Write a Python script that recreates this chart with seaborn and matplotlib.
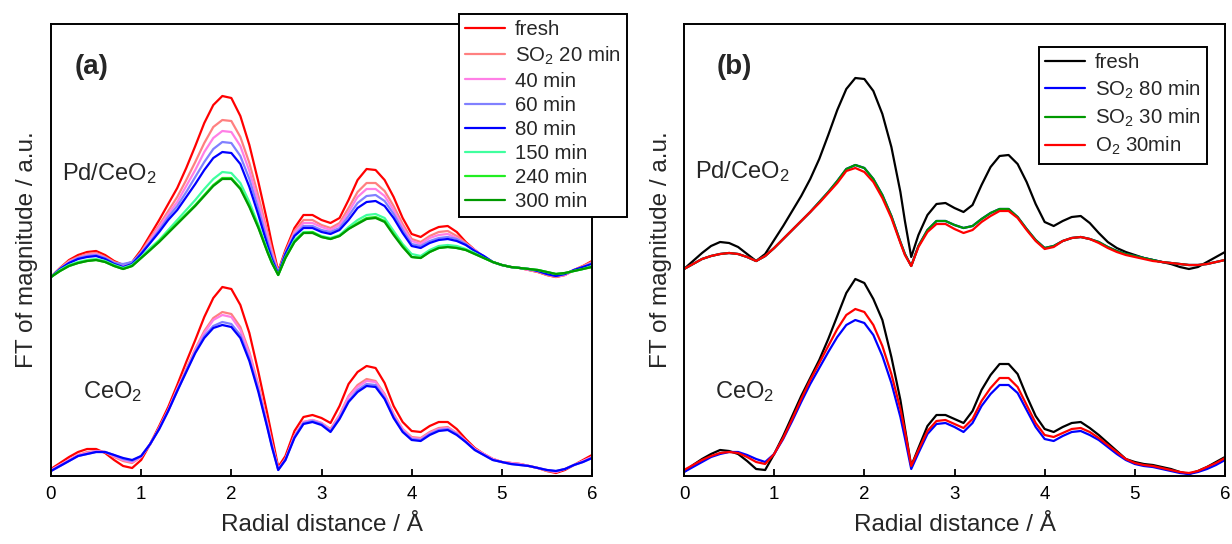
import numpy as np
import pandas as pd
import matplotlib
matplotlib.use("Agg")
import matplotlib.pyplot as plt
import seaborn as sns

# ---------------- data (radial distance grid, Å) ----------------
R = [0.0, 0.1, 0.2, 0.3, 0.4, 0.5, 0.6, 0.7, 0.8, 0.9,
     1.0, 1.1, 1.2, 1.3, 1.4, 1.5, 1.6, 1.7, 1.8, 1.9,
     2.0, 2.1, 2.2, 2.3, 2.4, 2.45, 2.52, 2.6, 2.7, 2.8, 2.9,
     3.0, 3.1, 3.2, 3.3, 3.4, 3.5, 3.6, 3.7, 3.8, 3.9,
     4.0, 4.1, 4.2, 4.3, 4.4, 4.5, 4.6, 4.7, 4.8, 4.9,
     5.0, 5.1, 5.2, 5.3, 5.4, 5.5, 5.6, 5.7, 5.8, 5.9, 6.0]

# panel (a) -- Pd/CeO2 (a.u., curves offset upward)
a_top_fresh = [199, 208, 216, 221, 224, 225, 221, 215, 211, 214,
               226, 241, 256, 272, 288, 308, 330, 353, 371, 380,
               378, 360, 331, 294, 254, 232, 205, 226, 248, 261, 261,
               256, 253, 258, 276, 296, 307, 306, 296, 279, 258,
               242, 239, 245, 249, 250, 244, 234, 226, 219, 214,
               211, 209, 208, 206, 204, 201, 199, 201, 206, 210, 215]
a_top_20 = [199, 208, 215, 219, 222, 223, 219, 214, 211, 213,
            224, 238, 251, 265, 279, 296, 314, 333, 349, 356,
            355, 339, 313, 280, 244, 226, 204, 224, 245, 256, 256,
            251, 248, 253, 268, 284, 293, 293, 285, 270, 252,
            237, 234, 240, 244, 245, 240, 233, 226, 219, 214,
            211, 209, 208, 206, 204, 201, 199, 201, 206, 210, 214]
a_top_40 = [199, 207, 214, 218, 221, 222, 218, 213, 211, 213,
            223, 236, 249, 262, 274, 290, 306, 324, 338, 345,
            344, 330, 305, 274, 240, 223, 203, 223, 243, 253, 253,
            249, 246, 251, 264, 279, 287, 287, 280, 266, 249,
            235, 232, 238, 241, 242, 238, 232, 226, 219, 214,
            211, 209, 208, 206, 205, 202, 200, 201, 206, 209, 213]
a_top_60 = [199, 207, 213, 218, 220, 221, 218, 213, 212, 214,
            223, 234, 246, 259, 270, 284, 299, 314, 327, 334,
            333, 320, 297, 267, 235, 220, 203, 223, 241, 250, 250,
            246, 244, 248, 260, 273, 280, 281, 275, 262, 246,
            232, 230, 235, 238, 239, 237, 232, 225, 220, 214,
            211, 209, 208, 207, 205, 202, 200, 202, 206, 209, 213]
a_top_80 = [199, 207, 213, 217, 219, 220, 217, 212, 209, 212,
            222, 233, 244, 256, 266, 279, 292, 306, 318, 324,
            323, 312, 289, 261, 231, 217, 202, 222, 240, 248, 248,
            244, 242, 246, 256, 268, 274, 275, 270, 258, 243,
            230, 228, 233, 236, 237, 235, 231, 225, 220, 214,
            211, 209, 208, 207, 205, 202, 200, 202, 206, 209, 212]
a_top_150 = [199, 206, 211, 214, 216, 217, 215, 211, 208, 211,
             219, 228, 236, 246, 256, 266, 276, 287, 297, 304,
             303, 293, 274, 251, 226, 214, 201, 219, 236, 244, 244,
             240, 238, 241, 249, 256, 261, 262, 258, 245, 232,
             222, 220, 226, 230, 231, 230, 227, 223, 218, 214,
             211, 209, 208, 207, 206, 204, 202, 203, 205, 207, 210]
a_top_240 = [199, 205, 210, 213, 215, 216, 214, 210, 207, 210,
             218, 226, 235, 244, 253, 262, 271, 281, 291, 298,
             298, 288, 270, 249, 224, 213, 201, 218, 234, 243, 244,
             239, 237, 240, 247, 253, 258, 259, 255, 242, 230,
             219, 218, 224, 228, 229, 228, 226, 222, 218, 214,
             211, 209, 208, 207, 206, 204, 202, 203, 205, 207, 209]
a_top_300 = [199, 205, 210, 213, 215, 216, 214, 210, 207, 210,
             218, 226, 234, 243, 252, 261, 270, 280, 290, 297,
             297, 287, 269, 248, 224, 213, 201, 218, 234, 243, 243,
             239, 237, 240, 247, 252, 257, 258, 254, 241, 229,
             219, 218, 224, 228, 229, 228, 226, 222, 218, 214,
             211, 209, 208, 207, 206, 204, 202, 203, 205, 207, 209]

# panel (a) -- CeO2
a_bot_fresh = [7, 13, 19, 24, 27, 27, 23, 16, 10, 8,
               16, 32, 50, 69, 91, 114, 136, 159, 178, 189,
               187, 171, 143, 104, 62, 40, 9, 20, 45, 59, 61,
               58, 53, 70, 92, 104, 110, 108, 93, 70, 54,
               45, 44, 50, 54, 54, 47, 37, 28, 22, 17,
               14, 13, 12, 10, 8, 5, 3, 6, 11, 16, 21]
a_bot_20 = [6, 11, 16, 21, 24, 25, 24, 19, 15, 13,
            19, 32, 48, 66, 87, 107, 127, 145, 158, 164,
            162, 149, 124, 91, 53, 33, 7, 17, 40, 54, 56,
            53, 47, 61, 80, 91, 97, 95, 82, 62, 47,
            39, 38, 44, 48, 49, 43, 35, 27, 22, 17,
            14, 13, 12, 10, 8, 5, 4, 7, 11, 15, 19]
a_bot_40 = [6, 11, 16, 21, 23, 25, 24, 20, 16, 14,
            19, 32, 48, 66, 87, 106, 126, 143, 156, 161,
            159, 146, 122, 89, 52, 32, 7, 17, 40, 54, 56,
            53, 46, 60, 79, 89, 95, 94, 81, 61, 47,
            38, 37, 43, 47, 48, 43, 35, 27, 22, 17,
            14, 13, 12, 10, 8, 6, 4, 7, 11, 15, 19]
a_bot_60 = [5, 10, 15, 20, 22, 24, 24, 21, 17, 15,
            20, 32, 47, 65, 85, 105, 124, 140, 150, 154,
            152, 141, 117, 86, 49, 30, 6, 16, 39, 53, 55,
            52, 45, 58, 75, 86, 92, 91, 78, 59, 45,
            37, 36, 42, 46, 47, 42, 34, 26, 21, 16,
            14, 12, 11, 10, 8, 6, 5, 7, 11, 14, 18]
a_bot_80 = [5, 10, 15, 20, 22, 24, 24, 21, 18, 16,
            20, 32, 47, 65, 85, 104, 123, 138, 148, 151,
            149, 138, 115, 84, 48, 29, 6, 16, 38, 52, 54,
            51, 44, 57, 74, 84, 90, 89, 77, 58, 44,
            36, 35, 41, 45, 46, 41, 34, 26, 21, 16,
            14, 12, 11, 10, 8, 6, 5, 7, 11, 14, 18]

# panel (b) -- Pd/CeO2
b_top_fresh = [207, 215, 223, 230, 234, 233, 229, 222, 215, 222,
               236, 250, 265, 280, 297, 317, 341, 366, 387, 398,
               397, 385, 362, 329, 284, 255, 219, 241, 261, 272, 273,
               268, 264, 271, 291, 309, 320, 321, 312, 294, 272,
               254, 250, 255, 259, 260, 253, 243, 234, 228, 224,
               221, 218, 216, 214, 212, 209, 207, 209, 214, 219, 224]
b_top_so2_80 = [207, 212, 217, 220, 222, 223, 222, 219, 215, 220,
                228, 237, 246, 255, 264, 274, 284, 295, 307, 311,
                308, 297, 281, 260, 234, 222, 210, 230, 246, 255, 255,
                251, 248, 250, 257, 263, 267, 267, 259, 247, 236,
                228, 230, 235, 238, 239, 237, 234, 229, 225, 222,
                220, 218, 216, 214, 213, 212, 211, 211, 212, 214, 216]
b_top_so2_30 = [207, 212, 217, 220, 222, 223, 222, 219, 215, 220,
                228, 237, 246, 255, 264, 274, 284, 295, 307, 311,
                308, 297, 281, 260, 234, 222, 210, 230, 246, 255, 255,
                251, 248, 250, 257, 263, 267, 267, 259, 247, 236,
                228, 230, 235, 238, 239, 237, 234, 229, 225, 222,
                220, 218, 216, 214, 213, 212, 211, 211, 212, 214, 216]
b_top_o2 = [207, 212, 217, 220, 222, 223, 222, 219, 215, 220,
            228, 237, 246, 255, 264, 273, 283, 293, 305, 308,
            304, 294, 278, 258, 233, 221, 210, 229, 244, 252, 252,
            247, 243, 246, 254, 260, 265, 265, 258, 246, 235,
            227, 229, 235, 238, 239, 237, 233, 228, 224, 221,
            219, 217, 215, 214, 213, 212, 211, 211, 212, 214, 216]

# panel (b) -- CeO2
b_bot_fresh = [4, 11, 17, 22, 26, 25, 22, 15, 7, 6,
               22, 40, 60, 80, 98, 116, 137, 160, 183, 197,
               193, 177, 156, 119, 76, 48, 10, 28, 50, 61, 61,
               57, 53, 65, 86, 101, 112, 112, 102, 80, 60,
               47, 44, 49, 53, 54, 48, 41, 33, 25, 17,
               14, 12, 11, 9, 7, 4, 2, 5, 9, 14, 19]
b_bot_so2_80 = [4, 9, 14, 19, 22, 24, 24, 21, 17, 14,
                22, 37, 55, 74, 92, 108, 124, 139, 151, 156,
                153, 141, 120, 93, 59, 38, 7, 23, 42, 52, 53,
                49, 44, 53, 70, 82, 91, 91, 83, 66, 49,
                37, 35, 40, 44, 45, 41, 36, 29, 22, 16,
                12, 10, 9, 7, 5, 3, 2, 4, 7, 11, 16]
b_bot_o2 = [6, 11, 16, 20, 23, 24, 23, 19, 14, 12,
            22, 38, 57, 77, 96, 113, 130, 147, 161, 167,
            164, 151, 130, 102, 67, 45, 10, 26, 45, 55, 56,
            52, 48, 57, 75, 88, 98, 98, 89, 71, 53,
            41, 39, 43, 47, 48, 44, 38, 31, 24, 17,
            13, 11, 10, 8, 6, 4, 3, 5, 9, 13, 18]

a_labels = ["fresh", r"SO$_{\rm 2}$ 20 min", "40 min", "60 min", "80 min",
            "150 min", "240 min", "300 min"]
a_colors = ["#ff0000", "#ff8080", "#ff7fe6", "#8080ff", "#0000ff",
            "#40ff9f", "#22ee22", "#009900"]
b_labels = ["fresh", r"SO$_{\rm 2}$ 80 min", r"SO$_{\rm 2}$ 30 min", r"O$_{\rm 2}$ 30min"]
b_colors = ["#000000", "#0000ff", "#009900", "#ff0000"]

# ---------------- styling ----------------
sns.set_theme(style="ticks")
plt.rcParams["font.family"] = ["Liberation Sans", "DejaVu Sans"]
plt.rcParams["mathtext.fontset"] = "custom"
plt.rcParams["mathtext.rm"] = "Liberation Sans"
plt.rcParams["mathtext.it"] = "Liberation Sans:italic"
plt.rcParams["mathtext.bf"] = "Liberation Sans:bold"

W, H = 1232, 544
fig = plt.figure(figsize=(W / 100, H / 100), dpi=100)

def px_axes(x0, x1, y0, y1):
    return fig.add_axes([x0 / W, 1 - y1 / H, (x1 - x0) / W, (y1 - y0) / H])

ax_a = px_axes(51, 592, 24, 476)
ax_b = px_axes(684, 1225, 24, 476)

LW = 1.6

def draw(ax, series, colors, labels=None):
    for i, (vals, c) in enumerate(zip(series, colors)):
        df = pd.DataFrame({"R": R, "v": vals})
        sns.lineplot(data=df, x="R", y="v", ax=ax, color=c, lw=LW,
                     label=(labels[i] if labels else None), legend=False,
                     sort=False, solid_joinstyle="round")

draw(ax_a, [a_bot_fresh, a_bot_20, a_bot_40, a_bot_60, a_bot_80], a_colors[:5])
draw(ax_a, [a_top_fresh, a_top_20, a_top_40, a_top_60, a_top_80,
            a_top_150, a_top_240, a_top_300], a_colors, a_labels)
draw(ax_b, [b_bot_fresh, b_bot_so2_80, b_bot_o2], ["#000000", "#0000ff", "#ff0000"])
draw(ax_b, [b_top_fresh, b_top_so2_80, b_top_so2_30, b_top_o2], b_colors, b_labels)

for ax in (ax_a, ax_b):
    ax.set_xlim(0, 6)
    ax.set_ylim(0, 452)
    ax.set_xticks([0, 1, 2, 3, 4, 5, 6])
    ax.set_yticks([])
    ax.tick_params(axis="x", direction="in", length=5, width=1.3,
                   labelsize=13.5, pad=7, colors="black")
    for s in ax.spines.values():
        s.set_linewidth(1.4)
        s.set_color("black")
        s.set_visible(True)
    ax.set_xlabel("Radial distance / Å", fontsize=17.5, labelpad=8)
    ax.set_ylabel("FT of magnitude / a.u.", fontsize=17.5, labelpad=9)

def fig_text(x, y, s, **kw):
    fig.text(x / W, 1 - y / H, s, **kw)

fig_text(75, 67, "(a)", fontsize=20, fontweight="bold", va="center", ha="left")
fig_text(717, 67, "(b)", fontsize=20, fontweight="bold", va="center", ha="left")
fig_text(62, 180, r"Pd/CeO$_{\rm 2}$", fontsize=17, va="baseline", ha="left")
fig_text(83, 398, r"CeO$_{\rm 2}$", fontsize=17, va="baseline", ha="left")
fig_text(695, 178, r"Pd/CeO$_{\rm 2}$", fontsize=17, va="baseline", ha="left")
fig_text(715, 398, r"CeO$_{\rm 2}$", fontsize=17, va="baseline", ha="left")

def make_legend(ax, x, y, spacing):
    h, l = ax.get_legend_handles_labels()
    leg = ax.legend(h, l, loc="upper left", bbox_to_anchor=(x / W, 1 - y / H),
                    bbox_transform=fig.transFigure, borderaxespad=0,
                    fontsize=14.7, frameon=True, fancybox=False, framealpha=1,
                    edgecolor="black", handlelength=1.95, handletextpad=0.5,
                    labelspacing=spacing, borderpad=0.3)
    leg.get_frame().set_linewidth(1.4)
    leg.set_zorder(10)
    return leg

make_legend(ax_a, 459, 14, 0.25)
make_legend(ax_b, 1039, 47, 0.3)

fig.savefig("out.png", dpi=100, facecolor="white")
